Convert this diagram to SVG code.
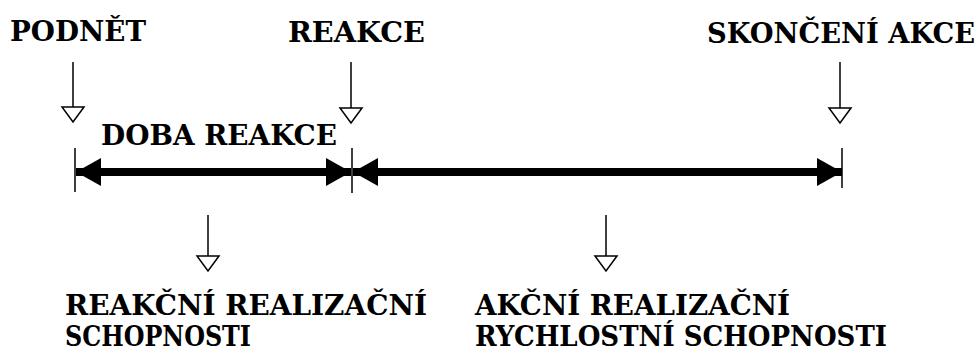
<svg xmlns="http://www.w3.org/2000/svg" width="980" height="355" viewBox="0 0 980 355">
<style>
text{font-family:"DejaVu Serif","Liberation Serif",serif;font-weight:bold;font-size:27px;fill:#000}
.thin{stroke:#000;stroke-width:1.5;fill:none}
.thick{stroke:#000;stroke-width:8;fill:none}
</style>
<defs>
<marker id="hollow" markerUnits="userSpaceOnUse" viewBox="-2 -13 19 26" refX="0" refY="0" markerWidth="19" markerHeight="26" orient="auto">
<path d="M0,-11 L15,0 L0,11 Z" fill="#fff" stroke="#000" stroke-width="1.5"/>
</marker>
<marker id="solid" markerUnits="userSpaceOnUse" viewBox="0 -15 26 30" refX="25" refY="0" markerWidth="26" markerHeight="30" orient="auto-start-reverse">
<path d="M0,-14 L25,0 L0,14 Z" fill="#000"/>
</marker>
</defs>
<rect width="980" height="355" fill="#fff"/>
<g id="podnet"><text x="10" y="41" textLength="136" lengthAdjust="spacingAndGlyphs">PODNĚT</text></g>
<g id="reakce"><text x="288" y="42" textLength="137" lengthAdjust="spacingAndGlyphs">REAKCE</text></g>
<g id="skonceni"><text x="707" y="43" textLength="268" lengthAdjust="spacingAndGlyphs">SKONČENÍ AKCE</text></g>
<g id="doba"><text x="101" y="145" textLength="236" lengthAdjust="spacingAndGlyphs">DOBA REAKCE</text></g>
<g id="reakcni"><text x="65" y="315" textLength="362" lengthAdjust="spacingAndGlyphs">REAKČNÍ REALIZAČNÍ</text><text x="65" y="346" textLength="186" lengthAdjust="spacingAndGlyphs">SCHOPNOSTI</text></g>
<g id="akcni"><text x="475" y="315" textLength="315" lengthAdjust="spacingAndGlyphs">AKČNÍ REALIZAČNÍ</text><text x="475" y="346" textLength="412" lengthAdjust="spacingAndGlyphs">RYCHLOSTNÍ SCHOPNOSTI</text></g>
<g id="connectors">
<line class="thin" x1="73" y1="62" x2="73" y2="107" marker-end="url(#hollow)"/>
<line class="thin" x1="351" y1="62" x2="351" y2="108" marker-end="url(#hollow)"/>
<line class="thin" x1="840" y1="62" x2="840" y2="108" marker-end="url(#hollow)"/>
<line class="thin" x1="208" y1="215" x2="208" y2="256" marker-end="url(#hollow)"/>
<line class="thin" x1="606" y1="215" x2="606" y2="256" marker-end="url(#hollow)"/>
<line class="thin" x1="75" y1="148" x2="75" y2="192"/>
<line class="thin" x1="352" y1="148" x2="352" y2="193"/>
<line class="thin" x1="842" y1="148" x2="842" y2="188"/>
<line class="thick" x1="76" y1="172" x2="351" y2="172" marker-start="url(#solid)" marker-end="url(#solid)"/>
<line class="thick" x1="353" y1="172" x2="842" y2="172" marker-start="url(#solid)" marker-end="url(#solid)"/>
</g>
</svg>
